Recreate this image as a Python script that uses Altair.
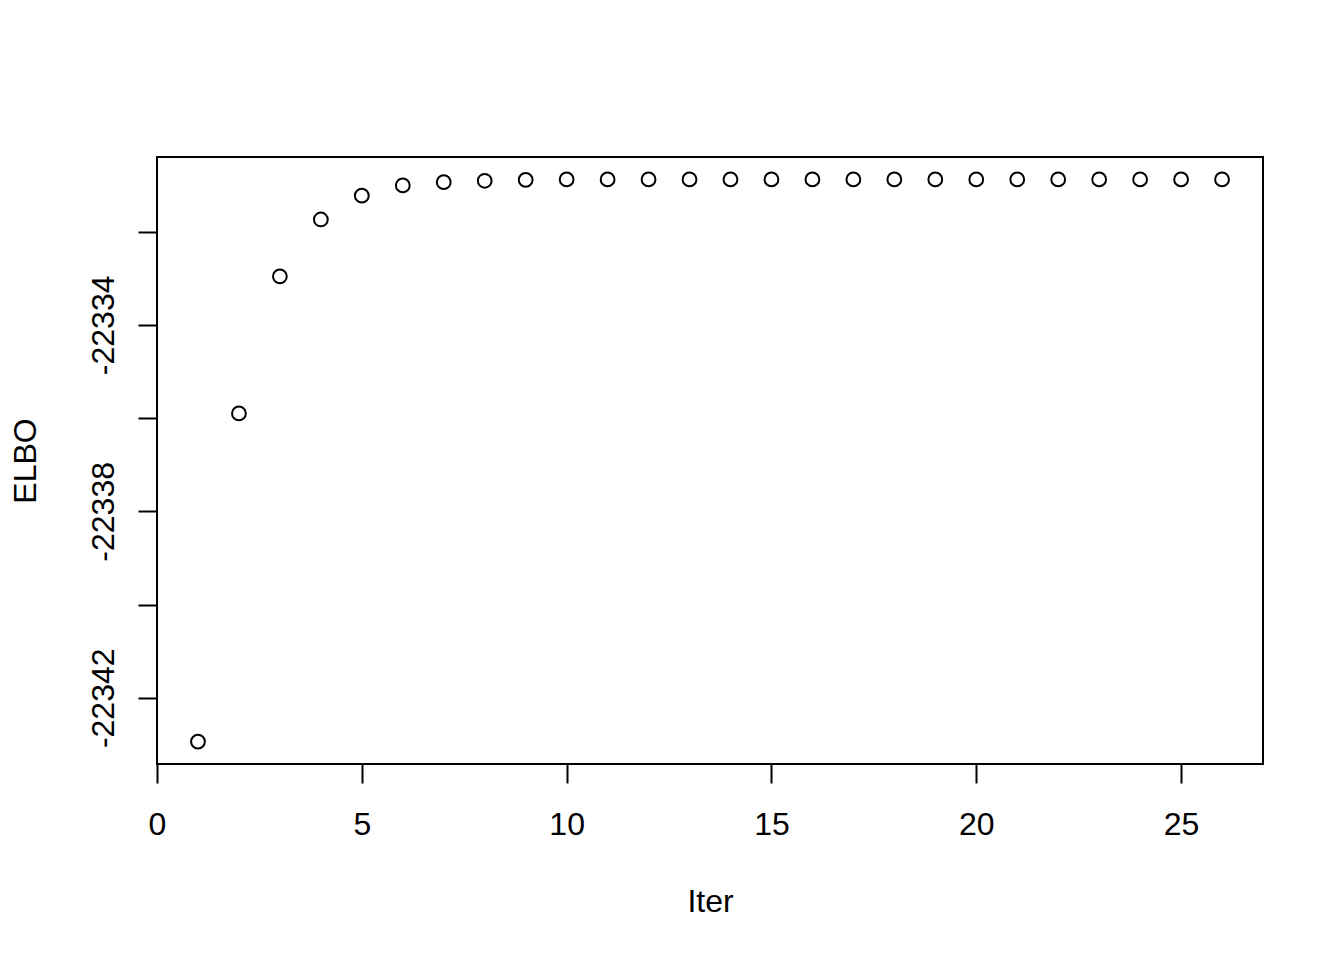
import altair as alt
import pandas as pd

iters = [1, 2, 3, 4, 5, 6, 7, 8, 9, 10, 11, 12, 13, 14, 15, 16, 17, 18, 19, 20,
         21, 22, 23, 24, 25, 26]
elbo = [-22342.94, -22335.90, -22332.96, -22331.74, -22331.23, -22331.01,
        -22330.94, -22330.91, -22330.89, -22330.88, -22330.88, -22330.88,
        -22330.88, -22330.88, -22330.88, -22330.88, -22330.88, -22330.88,
        -22330.88, -22330.88, -22330.88, -22330.88, -22330.88, -22330.88,
        -22330.88, -22330.88]

x_ticks = [0, 5, 10, 15, 20, 25]
y_ticks = [-22342, -22340, -22338, -22336, -22334, -22332]

df = pd.DataFrame({"Iter": iters, "ELBO": elbo})

FONT = "Liberation Sans"
W, H = 1106, 607

chart = alt.Chart(df).mark_point(
    shape="circle", filled=False, color="black", strokeWidth=2, size=190, opacity=1
).encode(
    x=alt.X("Iter:Q",
            scale=alt.Scale(domain=[0, 27], nice=False, zero=False),
            axis=alt.Axis(values=x_ticks, title="Iter", grid=False, domain=False,
                          tickSize=19, tickWidth=2, tickColor="black",
                          labelFont=FONT, labelFontSize=32, labelColor="black",
                          labelBaseline="alphabetic", labelPadding=51,
                          labelFlush=False, labelOverlap=False,
                          titleFont=FONT, titleFontSize=32, titleFontWeight="normal",
                          titleColor="black", titleX=W / 2, titleY=147,
                          titleBaseline="alphabetic", titleAlign="center")),
    y=alt.Y("ELBO:Q",
            scale=alt.Scale(domain=[-22343.42, -22330.40], nice=False, zero=False),
            axis=alt.Axis(values=y_ticks, title="ELBO", grid=False, domain=False,
                          tickSize=19, tickWidth=2, tickColor="black",
                          labelExpr="(datum.value + 22334) % 4 == 0 ? '' + datum.value : ''",
                          labelFont=FONT, labelFontSize=32, labelColor="black",
                          labelAngle=270, labelAlign="center",
                          labelBaseline="alphabetic", labelPadding=25,
                          labelFlush=False, labelOverlap=False,
                          titleFont=FONT, titleFontSize=32, titleFontWeight="normal",
                          titleColor="black", titleAngle=270, titleX=-122,
                          titleY=H / 2, titleBaseline="alphabetic",
                          titleAlign="center")),
).properties(
    width=W, height=H,
    autosize=alt.AutoSizeParams(type="none"),
    padding={"left": 149, "top": 149, "right": 73, "bottom": 188},
    background="white",
).configure_view(
    stroke="black", strokeWidth=2, fill="white"
)

chart.save("out.html", embed_options={"renderer": "svg", "actions": False})
